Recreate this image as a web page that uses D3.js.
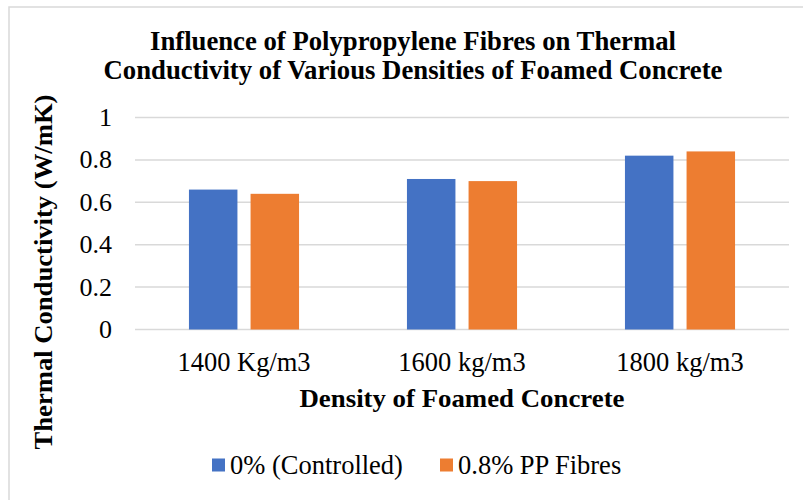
<!DOCTYPE html>
<html>
<head>
<meta charset="utf-8">
<script src="https://cdn.jsdelivr.net/npm/d3@7"></script>
<style>
  body { margin: 0; background: #fff; }
</style>
</head>
<body>
<script>
const width = 803;
const height = 500;

const categories = ["1400 Kg/m3", "1600 kg/m3", "1800 kg/m3"];
const seriesNames = ["0% (Controlled)", "0.8% PP Fibres"];
const controlled = [0.66, 0.71, 0.82];
const ppFibres = [0.64, 0.70, 0.84];
const yTicks = [0, 0.2, 0.4, 0.6, 0.8, 1];
const colors = ["#4472C4", "#ED7D31"];

const rows = categories.map((c, i) => ({ cat: c, values: [controlled[i], ppFibres[i]] }));

const margin = { left: 135, right: 14, top: 117.5, bottom: 170.5 };

const svg = d3.select("body")
  .append("svg")
  .attr("width", width)
  .attr("height", height)
  .attr("font-family", "'Liberation Serif', 'Times New Roman', serif")
  .attr("fill", "#000");

// chart frame (only top/left visible in the crop)
svg.append("rect")
  .attr("x", 9)
  .attr("y", 7)
  .attr("width", width + 20)
  .attr("height", height + 20)
  .attr("fill", "#fff")
  .attr("stroke", "#d9d9d9")
  .attr("stroke-width", 1.5);

const x0 = d3.scaleBand()
  .domain(categories)
  .range([margin.left, width - margin.right])
  .paddingInner(0.495)
  .paddingOuter(0.2475);

const x1 = d3.scaleBand()
  .domain(d3.range(seriesNames.length))
  .range([0, x0.bandwidth()])
  .paddingInner(0.213);

const y = d3.scaleLinear()
  .domain([0, 1])
  .range([height - margin.bottom, margin.top]);

// gridlines
svg.append("g")
  .selectAll("line")
  .data(yTicks)
  .join("line")
  .attr("x1", margin.left)
  .attr("x2", width - margin.right)
  .attr("y1", d => y(d))
  .attr("y2", d => y(d))
  .attr("stroke", "#d9d9d9")
  .attr("stroke-width", 1.5);

// y tick labels
svg.append("g")
  .selectAll("text")
  .data(yTicks)
  .join("text")
  .attr("x", 112)
  .attr("y", d => y(d))
  .attr("dy", "0.33em")
  .attr("text-anchor", "end")
  .style("font-size", "26px")
  .text(d => d3.format("~g")(d));

// bars
const groups = svg.append("g")
  .selectAll("g")
  .data(rows)
  .join("g")
  .attr("transform", d => `translate(${x0(d.cat)},0)`);

groups.selectAll("rect")
  .data(d => d.values.map((v, i) => ({ i, v })))
  .join("rect")
  .attr("x", d => x1(d.i))
  .attr("width", x1.bandwidth())
  .attr("y", d => y(d.v))
  .attr("height", d => y(0) - y(d.v))
  .attr("fill", d => colors[d.i]);

// x tick labels
svg.append("g")
  .selectAll("text")
  .data(categories)
  .join("text")
  .attr("x", d => x0(d) + x0.bandwidth() / 2)
  .attr("y", 371)
  .attr("text-anchor", "middle")
  .style("font-size", "26.5px")
  .text(d => d);

// title
const titleLines = [
  { t: "Influence of Polypropylene Fibres on Thermal", y: 50, len: 526 },
  { t: "Conductivity of Various Densities of Foamed Concrete", y: 79, len: 619 }
];
svg.append("g")
  .selectAll("text")
  .data(titleLines)
  .join("text")
  .attr("x", 413)
  .attr("y", d => d.y)
  .attr("text-anchor", "middle")
  .attr("textLength", d => d.len)
  .attr("lengthAdjust", "spacingAndGlyphs")
  .style("font-size", "26.5px")
  .style("font-weight", "bold")
  .text(d => d.t);

// x axis title
svg.append("text")
  .attr("x", 462)
  .attr("y", 407)
  .attr("text-anchor", "middle")
  .attr("textLength", 325)
  .attr("lengthAdjust", "spacingAndGlyphs")
  .style("font-size", "26px")
  .style("font-weight", "bold")
  .text("Density of Foamed Concrete");

// y axis title
svg.append("text")
  .attr("transform", "translate(52,272) rotate(-90)")
  .attr("text-anchor", "middle")
  .attr("textLength", 355)
  .attr("lengthAdjust", "spacingAndGlyphs")
  .style("font-size", "26px")
  .style("font-weight", "bold")
  .text("Thermal Conductivity (W/mK)");

// legend
const legendItems = [
  { name: seriesNames[0], x: 212, color: colors[0] },
  { name: seriesNames[1], x: 440, color: colors[1] }
];
const legend = svg.append("g")
  .selectAll("g")
  .data(legendItems)
  .join("g")
  .attr("transform", d => `translate(${d.x},465)`);

legend.append("rect")
  .attr("x", 0)
  .attr("y", -6.5)
  .attr("width", 13)
  .attr("height", 13)
  .attr("fill", d => d.color);

legend.append("text")
  .attr("x", 18)
  .attr("y", 9)
  .style("font-size", "26.5px")
  .text(d => d.name);
</script>
</body>
</html>
